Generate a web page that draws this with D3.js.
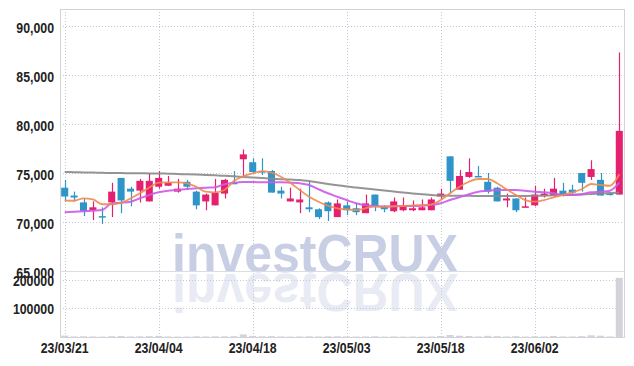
<!DOCTYPE html>
<html>
<head>
<meta charset="utf-8">
<script src="https://cdn.jsdelivr.net/npm/d3@7"></script>
<style>
  body { margin: 0; background: #fff; }
  svg { display: block; }
</style>
</head>
<body>
<div id="chart"></div>
<script>
const dates = [
  '23/03/21', '23/03/22', '23/03/23', '23/03/24', '23/03/27', '23/03/28', '23/03/29', '23/03/30', '23/03/31', '23/04/03',
  '23/04/04', '23/04/05', '23/04/06', '23/04/07', '23/04/10', '23/04/11', '23/04/12', '23/04/13', '23/04/14', '23/04/17',
  '23/04/18', '23/04/19', '23/04/20', '23/04/21', '23/04/24', '23/04/25', '23/04/26', '23/04/27', '23/04/28', '23/05/02',
  '23/05/03', '23/05/04', '23/05/08', '23/05/09', '23/05/10', '23/05/11', '23/05/12', '23/05/15', '23/05/16', '23/05/17',
  '23/05/18', '23/05/19', '23/05/22', '23/05/23', '23/05/24', '23/05/25', '23/05/26', '23/05/30', '23/05/31', '23/06/01',
  '23/06/02', '23/06/05', '23/06/07', '23/06/08', '23/06/09', '23/06/12', '23/06/13', '23/06/14', '23/06/15', '23/06/16'
]
const opens = [
  73500, 72700, 72000, 71200, 70600, 72000, 74500, 73400, 73200, 72100,
  73600, 73700, 73100, 74100, 73100, 72100, 71700, 72900, 74000, 76400,
  76100, 75200, 75200, 73200, 72100, 72000, 71500, 71300, 72000, 70500,
  71700, 71400, 70900, 72800, 71600, 71100, 71200, 71200, 71200, 71200,
  72600, 76700, 73300, 74600, 74700, 74100, 73500, 72200, 72400, 71500,
  71700, 72700, 72700, 73200, 73300, 75000, 74600, 74300, 72900, 72800
]
const highs = [
  74300, 73100, 72400, 72100, 71500, 74000, 74500, 73600, 74400, 75000,
  75200, 74700, 74400, 74300, 73200, 72900, 74400, 74400, 75200, 77400,
  76500, 76500, 75300, 73600, 73500, 73400, 74100, 71400, 72100, 72300,
  72100, 71900, 72800, 72800, 71700, 72500, 72500, 72200, 72300, 72500,
  73400, 76700, 75300, 76500, 75700, 75000, 73600, 72900, 72400, 72500,
  73700, 73400, 74500, 74000, 73800, 75000, 76300, 75000, 73000, 87300
]
const lows = [
  72100, 72100, 70600, 70200, 69800, 70500, 70900, 71600, 72000, 72100,
  73400, 73700, 73000, 73300, 71300, 71200, 71700, 72400, 73900, 74600,
  75000, 74800, 73000, 72400, 72100, 70900, 71000, 70300, 70100, 70500,
  70700, 70700, 70900, 71100, 71000, 71000, 71100, 71100, 71200, 71200,
  72300, 72900, 73300, 74500, 74600, 72900, 72100, 71500, 71000, 71500,
  71600, 72500, 72600, 72600, 72800, 73100, 74300, 72700, 72700, 72800
]
const closes = [
  72600, 72500, 71100, 71500, 70500, 73100, 72200, 73100, 74200, 74200,
  74500, 74000, 73400, 73600, 71700, 72800, 73000, 74300, 73900, 76900,
  75100, 75100, 73000, 72900, 72400, 72300, 71300, 70500, 71100, 71900,
  71200, 71000, 71900, 71600, 71300, 72100, 71700, 71400, 71500, 72300,
  72900, 74200, 74700, 75100, 74600, 73100, 72100, 72400, 71200, 71600,
  72800, 72900, 73400, 72800, 73000, 74000, 75400, 72700, 72800, 79300
]
const volumes = [
  5000, 2000, 2500, 2000, 1500, 3000, 3500, 2000, 2500, 3000,
  4000, 2000, 1500, 1500, 2500, 2000, 2500, 2500, 3000, 9000,
  4000, 2500, 3000, 2000, 1500, 2000, 2500, 2000, 2500, 2500,
  2000, 1500, 2000, 2500, 1500, 2000, 1500, 1500, 1500, 2000,
  3500, 7000, 4500, 3500, 2000, 4000, 3000, 2000, 3000, 1500,
  2500, 2000, 3500, 2000, 2000, 3000, 6000, 4500, 2000, 206000
]
// 이동평균선
const ma5 = [
  72190, 72170, 72420, 72300, 71810, 71810, 71940, 72400, 72930, 73520,
  74010, 74050, 74050, 73950, 73600, 73090, 73030, 73270, 74180, 74660,
  74970, 75200, 75030, 74620, 74010, 73270, 72580, 72070, 71660, 71400,
  71300, 71220, 71400, 71560, 71560, 71600, 71630, 71700, 71730, 71810,
  72240, 72930, 73600, 74110, 74390, 74390, 73950, 73340, 72760, 72240,
  72070, 72240, 72520, 72760, 73030, 73340, 73880, 73780, 73700, 74870
]
const ma20 = [
  70990, 71040, 71090, 71150, 71220, 71910, 71970, 72070, 72420, 72760,
  73030, 73190, 73270, 73370, 73440, 73500, 73540, 73850, 74010, 74080,
  74080, 74050, 74050, 74050, 74010, 73950, 73780, 73340, 72930, 72580,
  72240, 71910, 71700, 71630, 71580, 71600, 71630, 71630, 71660, 71730,
  71910, 72240, 72520, 72830, 73090, 73190, 73270, 73270, 73270, 73190,
  73090, 73030, 72930, 72760, 72760, 72830, 73030, 73090, 73190, 74010
]
const ma60 = [
  75100, 75080, 75060, 75040, 75020, 75000, 74990, 74980, 74970, 74960,
  74950, 74930, 74900, 74870, 74840, 74800, 74760, 74710, 74660, 74600,
  74540, 74480, 74420, 74370, 74330, 74290, 74180, 74030, 73880, 73740,
  73620, 73520, 73420, 73320, 73210, 73110, 73010, 72920, 72830, 72760,
  72700, 72690, 72680, 72670, 72660, 72650, 72650, 72650, 72660, 72660,
  72670, 72690, 72720, 72750, 72780, 72810, 72850, 72900, 72950, 73010
]
const tickLabels = ['23/03/21', '23/04/04', '23/04/18', '23/05/03', '23/05/18', '23/06/02']
const priceTicks = [65000, 70000, 75000, 80000, 85000, 90000]
const volumeTicks = [100000, 200000]

const UP = '#e5206e'
const DOWN = '#2f95c8'
const LABEL_FONT = '"Liberation Sans", Arial, sans-serif'

function setAttrs(sel, attrs) {
  Object.entries(attrs).forEach(([k, v]) => sel.attr(k, v))
  return sel
}

const width = 634
const height = 366
const frame = { left: 60, right: 624, top: 9, split: 271, bottom: 337 }

const svg = d3.select('#chart').append('svg')
setAttrs(svg, { width, height, viewBox: `0 0 ${width} ${height}` })

const x = d3.scaleBand()
  .domain(dates)
  .range([frame.left, frame.right])
  .paddingInner(0.25)
  .paddingOuter(0.125)
const cx = d => x(d) + x.bandwidth() / 2
const yPrice = d3.scaleLinear().domain([65000, 91735]).range([frame.split, frame.top])
const yVol = d3.scaleLinear().domain([0, 230000]).range([frame.bottom, frame.split])

const candles = dates.map((d, i) => ({
  date: d, open: opens[i], high: highs[i], low: lows[i], close: closes[i], volume: volumes[i]
}))

// grid
const grid = svg.append('g')
setAttrs(grid, { stroke: '#c6c6da', 'stroke-width': 1, 'stroke-dasharray': '1,2' })
grid.selectAll('line.hp').data(priceTicks).join('line')
  .attr('x1', frame.left).attr('x2', frame.right)
  .attr('y1', d => Math.round(yPrice(d)) + 0.5).attr('y2', d => Math.round(yPrice(d)) + 0.5)
grid.selectAll('line.hv').data(volumeTicks).join('line')
  .attr('x1', frame.left).attr('x2', frame.right)
  .attr('y1', d => Math.round(yVol(d)) + 0.5).attr('y2', d => Math.round(yVol(d)) + 0.5)
grid.selectAll('line.v').data(tickLabels).join('line')
  .attr('x1', d => Math.round(cx(d)) + 0.5).attr('x2', d => Math.round(cx(d)) + 0.5)
  .attr('y1', frame.top).attr('y2', frame.bottom)

// watermark
const mark = svg.append('g').attr('font-family', '"Liberation Sans", Arial, sans-serif')
  .attr('font-weight', 'bold').attr('font-size', 54)
setAttrs(mark.append('text'), { x: 172, y: 272, textLength: 286, lengthAdjust: 'spacingAndGlyphs', fill: '#c8cfe4' })
  .text('investCRUX')
setAttrs(mark.append('text'), {
  x: 172, y: 272, textLength: 286, lengthAdjust: 'spacingAndGlyphs', fill: '#c8cfe4',
  opacity: 0.4, transform: 'translate(0,546) scale(1,-1)'
}).text('investCRUX')

// frame
setAttrs(svg.append('rect'), {
  x: frame.left + 0.5, y: frame.top + 0.5,
  width: frame.right - frame.left, height: frame.bottom - frame.top,
  fill: 'none', stroke: '#d2d2da'
})
setAttrs(svg.append('line'), {
  x1: frame.left, x2: frame.right, y1: frame.split + 0.5, y2: frame.split + 0.5, stroke: '#dcdce4'
})

// volume
svg.append('g').selectAll('rect').data(candles).join('rect')
  .attr('x', d => x(d.date))
  .attr('width', x.bandwidth())
  .attr('y', d => yVol(d.volume))
  .attr('height', d => yVol(0) - yVol(d.volume))
  .attr('fill', '#d3d3dc')

// candles
const cg = svg.append('g')
cg.selectAll('line').data(candles).join('line')
  .attr('x1', d => Math.round(cx(d.date)) + 0.5).attr('x2', d => Math.round(cx(d.date)) + 0.5)
  .attr('y1', d => yPrice(d.high)).attr('y2', d => yPrice(d.low))
  .attr('stroke', d => d.close >= d.open ? UP : DOWN)
  .attr('stroke-width', 1.2)
cg.selectAll('rect').data(candles).join('rect')
  .attr('x', d => x(d.date))
  .attr('width', x.bandwidth())
  .attr('y', d => yPrice(Math.max(d.open, d.close)))
  .attr('height', d => Math.max(1.5, Math.abs(yPrice(d.open) - yPrice(d.close))))
  .attr('fill', d => d.close >= d.open ? UP : DOWN)

// moving averages
const maLine = d3.line().x((v, i) => cx(dates[i])).y(v => yPrice(v)).curve(d3.curveMonotoneX)
const series = [
  { values: ma60, color: '#8a8a8a', w: 2 },
  { values: ma20, color: '#cc5ae8', w: 2 },
  { values: ma5, color: '#ef8a50', w: 1.8 }
]
svg.append('g').selectAll('path').data(series).join('path')
  .attr('d', s => maLine(s.values))
  .attr('fill', 'none')
  .attr('stroke', s => s.color)
  .attr('stroke-width', s => s.w)
  .attr('opacity', 0.9)

// axes: 좁은 글꼴 대신 글자 폭을 줄여서 씀
const styleAxis = (g, size) => {
  g.select('.domain').remove()
  g.selectAll('.tick line').remove()
  g.selectAll('text')
    .attr('font-family', LABEL_FONT)
    .attr('font-size', size)
    .attr('font-weight', 'bold')
    .attr('fill', '#222')
    .each(function () {
      const w = this.getComputedTextLength()
      d3.select(this).attr('textLength', w * 0.88).attr('lengthAdjust', 'spacingAndGlyphs')
    })
}
svg.append('g')
  .attr('transform', `translate(${frame.left},0)`)
  .call(d3.axisLeft(yPrice).tickValues(priceTicks).tickFormat(d3.format(',')).tickSize(0).tickPadding(6))
  .call(g => styleAxis(g, 14))
  .call(g => g.selectAll('text').attr('dy', '0.45em'))
svg.append('g')
  .attr('transform', `translate(${frame.left},0)`)
  .call(d3.axisLeft(yVol).tickValues(volumeTicks).tickFormat(d3.format('d')).tickSize(0).tickPadding(6))
  .call(g => styleAxis(g, 14))
  .call(g => g.selectAll('text').attr('dy', '0.4em'))
svg.append('g')
  .attr('transform', `translate(0,${frame.bottom})`)
  .call(d3.axisBottom(x).tickValues(tickLabels).tickSize(0).tickPadding(6))
  .call(g => styleAxis(g, 14))
</script>
</body>
</html>
